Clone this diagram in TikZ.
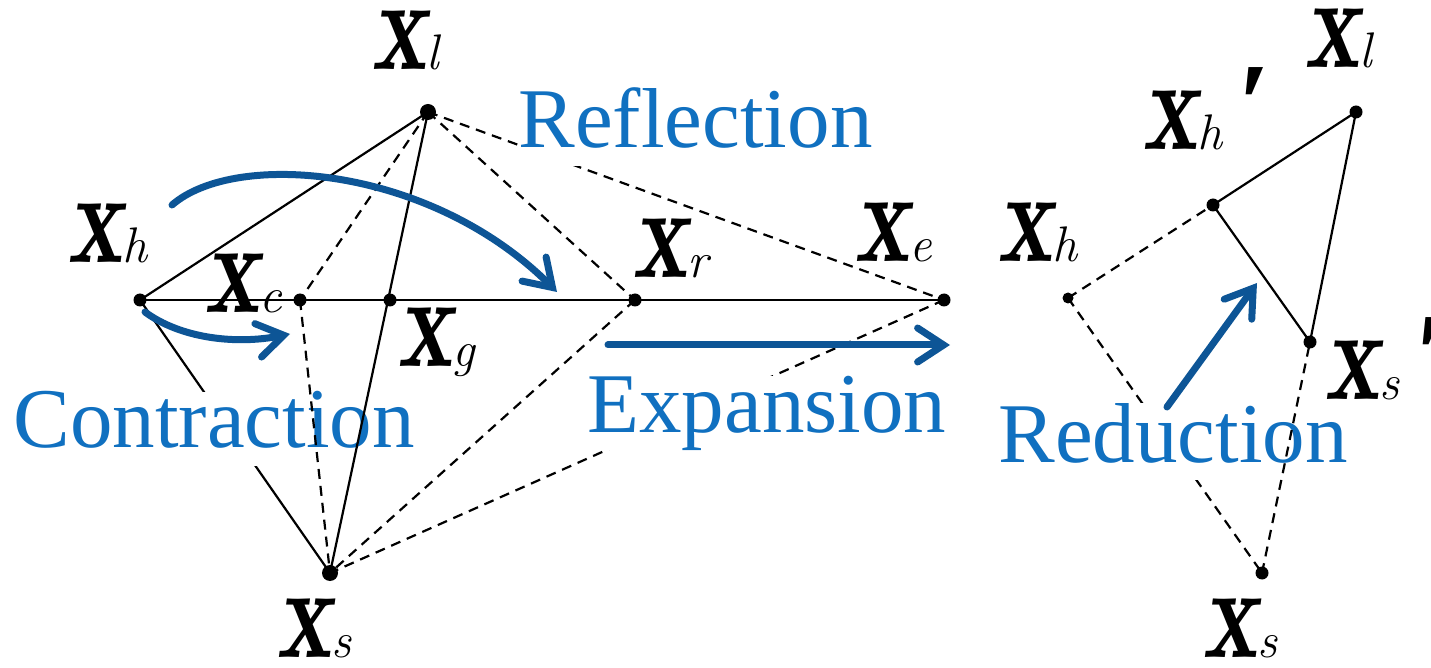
\documentclass[tikz,border=0pt]{standalone}
\usepackage{graphicx}
\usepackage{fontspec}
\setmainfont{Liberation Serif}
\usetikzlibrary{arrows.meta}
\definecolor{txtblue}{RGB}{16,112,192}
\definecolor{arrblue}{RGB}{13,85,150}
\newcommand{\vx}[1]{{\fontfamily{lmr}\fontseries{b}\fontshape{it}\fontsize{66}{68}\selectfont\scalebox{0.78}[1]{x}}{\fontfamily{lmr}\fontseries{m}\fontshape{it}\fontsize{25}{27}\selectfont #1}}
\newcommand{\vxp}[1]{\vx{#1}\kern8pt\raisebox{3pt}{\fontsize{58}{60}\selectfont\bfseries ′}}
\begin{document}
\begin{tikzpicture}[x=0.5pt,y=-0.5pt,
  dot/.style={circle,fill=black,inner sep=0pt,minimum size=6.5pt},
  bigdot/.style={dot,minimum size=8pt},
  smalldot/.style={dot,minimum size=5.5pt},
  solidline/.style={line width=1.1pt},
  dashline/.style={line width=1.1pt,dash pattern=on 5pt off 3.5pt},
  lab/.style={anchor=base west,inner sep=0pt},
  op/.style={anchor=base west,inner sep=0pt,text=txtblue,font=\fontsize{42.5}{44}\selectfont},
  opfill/.style={op,fill=white,text depth=9pt},
  move/.style={draw=arrblue,line width=3.5pt,line cap=round,-{Straight Barb[length=13pt,width=17pt,line cap=round]}}
]
\fill[white] (0,0) rectangle (1431,668);
\useasboundingbox (0,0) rectangle (1431,668);

% left simplex points
\node[bigdot] (xl) at (428,112) {};
\node[dot] (xh) at (140,300) {};
\node[dot] (xc) at (300,300) {};
\node[dot] (xg) at (390,300) {};
\node[dot] (xr) at (635,300) {};
\node[dot] (xe) at (944,300) {};
\node[bigdot] (xs) at (330,573) {};

% right simplex points
\node[dot] (rl) at (1356,112) {};
\node[dot] (rhp) at (1213,205) {};
\node[dot] (rsp) at (1310,342) {};
\node[smalldot] (rh) at (1068,298) {};
\node[dot] (rs) at (1262,573) {};

% lines partly hidden by labels
\draw[solidline] (xh.center) -- (xs.center);
\draw[dashline] (rh.center) -- (rs.center);
\node[opfill] (contr) at (13,448) {Contraction};
\node[opfill] (reduc) at (998,462) {Reduction};

% left simplex lines
\draw[solidline] (xh.center) -- (xl.center);
\draw[solidline] (xl.center) -- (xs.center);
\draw[solidline] (xh.center) -- (xe.center);
\draw[dashline] (xl.center) -- (xc.center);
\draw[dashline] (xc.center) -- (xs.center);
\draw[dashline] (xl.center) -- (xr.center);
\draw[dashline] (xr.center) -- (xs.center);
\draw[dashline] (xl.center) -- (xe.center);
\draw[dashline] (xe.center) -- (xs.center);

% right simplex lines
\draw[solidline] (rl.center) -- (rhp.center);
\draw[solidline] (rhp.center) -- (rsp.center);
\draw[solidline] (rsp.center) -- (rl.center);
\draw[dashline] (rh.center) -- (rhp.center);
\draw[dashline] (rs.center) -- (rsp.center);

\node[opfill] (refl) at (518,148) {Reflection};
\node[opfill] (expa) at (587,432) {Expansion};

% point labels
\node[lab] (Lxl) at (372,70) {\vx{l}};
\node[lab] (Lxh) at (68,263) {\vx{h}};
\node[lab] (Lxc) at (205,313) {\vx{c}};
\node[lab] (Lxg) at (398,367) {\vx{g}};
\node[lab] (Lxr) at (633,278) {\vx{r}};
\node[lab] (Lxe) at (855,262) {\vx{e}};
\node[lab] (Lxs) at (277,657) {\vx{s}};
\node[lab] (Rxl) at (1305,68) {\vx{l}};
\node[lab] (Rxhp) at (1143,150) {\vxp{h}};
\node[lab] (Rxh) at (998,262) {\vx{h}};
\node[lab] (Rxsp) at (1325,400) {\vxp{s}};
\node[lab] (Rxs) at (1203,657) {\vx{s}};

% blue move arrows
\coordinate (rfA) at (172,205);
\coordinate (rfB) at (557,292);
\coordinate (ctA) at (145,312);
\coordinate (ctB) at (290,334);
\coordinate (exA) at (608,345);
\coordinate (exB) at (950,345);
\coordinate (rdA) at (1167,407);
\coordinate (rdB) at (1257,283);
\draw[move] (rfA) .. controls (235,150) and (430,165) .. (rfB);
\draw[move] (ctA) .. controls (180,338) and (235,345) .. (ctB);
\draw[move] (exA) -- (exB);
\draw[move] (rdA) -- (rdB);
\end{tikzpicture}
\end{document}
